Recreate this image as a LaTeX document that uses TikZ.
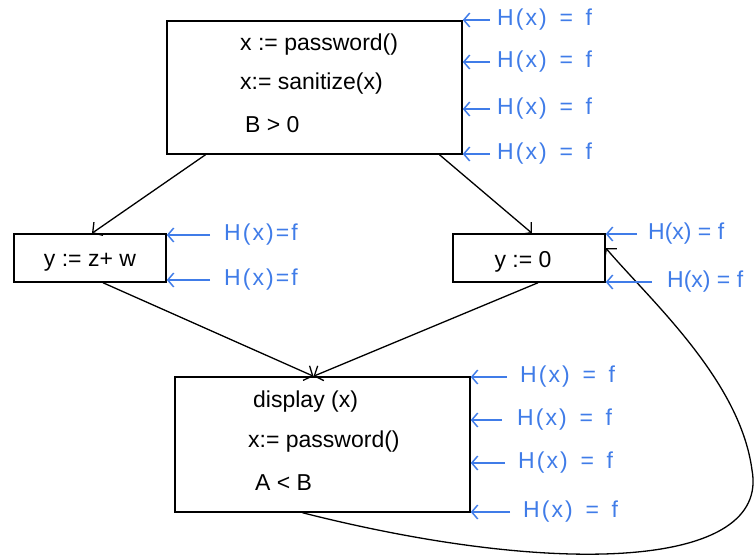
\documentclass[tikz,border=0pt]{standalone}
\usepackage{fontspec}
\setmainfont{Liberation Sans}
\newfontfamily\handfont[LetterSpace=9,WordSpace=1.5]{Liberation Sans}
\usetikzlibrary{arrows.meta}
\definecolor{hblue}{RGB}{64,124,232}

\begin{document}
\begin{tikzpicture}[x=1pt,y=-1pt]
\tikzstyle{every node}=[font=\fontsize{23}{26}\selectfont]
\tikzstyle{block}=[draw,line width=1.5pt,inner sep=0pt]
\tikzstyle{stmt}=[anchor=west,inner sep=0pt]
\tikzstyle{flow}=[line width=1.3pt,-{Straight Barb[length=7pt,width=16pt]}]
\tikzstyle{hint}=[anchor=west,inner sep=0pt,text=hblue,font=\handfont\fontsize{23}{26}\selectfont]
\tikzstyle{edgehint}=[hint,font=\fontsize{23}{26}\selectfont]
\tikzstyle{harrow}=[hblue,line width=1.5pt,-{Straight Barb[length=6pt,width=14pt]}]
\useasboundingbox (0,0) rectangle (756,556);

\node[block,minimum width=295pt,minimum height=133pt] (entry) at (314.5,87.5) {};
\node[block,minimum width=152pt,minimum height=48pt] (left) at (90,258) {};
\node[block,minimum width=152pt,minimum height=48pt] (right) at (529,258) {};
\node[block,minimum width=295pt,minimum height=135pt] (exit) at (322.5,444.5) {};

\node[stmt] (s1) at (240,45) {x := password()};
\node[stmt] (s2) at (240,84) {x:= sanitize(x)};
\node[stmt] (s3) at (245,125) {B > 0};
\node (ly) at (90,262) {y := z+ w};
\node (ry) at (523,262) {y := 0};
\node[stmt] (d1) at (253,402) {display (x)};
\node[stmt] (d2) at (248,442) {x:= password()};
\node[stmt] (d3) at (255,483) {A < B};

\draw[flow] ([xshift=-109pt]entry.south) -- ([xshift=2pt]left.north);
\draw[flow] ([xshift=125pt]entry.south) -- ([xshift=3pt]right.north);
\draw[flow] ([xshift=13pt]left.south) -- ([xshift=-9pt]exit.north);
\draw[flow] ([xshift=9pt]right.south) -- ([xshift=-9pt]exit.north);
\draw[flow] ([xshift=-20pt]exit.south) .. controls (560,578) and (770,568) .. (752,470)
  .. controls (740,380) and (650,300) .. ([yshift=10pt]right.east);

\node[hint] (e1) at (497,20) {H(x) = f};
\node[hint] (e2) at (497,62) {H(x) = f};
\node[hint] (e3) at (497,109) {H(x) = f};
\node[hint] (e4) at (497,154) {H(x) = f};
\draw[harrow] ([xshift=-7pt]e1.west) -- (e1.west -| entry.east);
\draw[harrow] ([xshift=-7pt]e2.west) -- (e2.west -| entry.east);
\draw[harrow] ([xshift=-7pt]e3.west) -- (e3.west -| entry.east);
\draw[harrow] ([xshift=-7pt]e4.west) -- (e4.west -| entry.east);

\node[hint] (l1) at (224,235) {H(x)=f};
\node[hint] (l2) at (224,280) {H(x)=f};
\draw[harrow] ([xshift=-14pt]l1.west) -- (l1.west -| left.east);
\draw[harrow] ([xshift=-14pt]l2.west) -- (l2.west -| left.east);

\node[edgehint] (r1) at (648,234) {H(x) = f};
\node[edgehint] (r2) at (667,282) {H(x) = f};
\draw[harrow] ([xshift=-11pt]r1.west) -- (r1.west -| right.east);
\draw[harrow] ([xshift=-15pt]r2.west) -- (r2.west -| right.east);

\node[hint] (x1) at (520,377) {H(x) = f};
\node[hint] (x2) at (517,420) {H(x) = f};
\node[hint] (x3) at (518,463) {H(x) = f};
\node[hint] (x4) at (523,512) {H(x) = f};
\draw[harrow] ([xshift=-13pt]x1.west) -- (x1.west -| exit.east);
\draw[harrow] ([xshift=-15pt]x2.west) -- (x2.west -| exit.east);
\draw[harrow] ([xshift=-13pt]x3.west) -- (x3.west -| exit.east);
\draw[harrow] ([xshift=-13pt]x4.west) -- (x4.west -| exit.east);
\end{tikzpicture}
\end{document}
